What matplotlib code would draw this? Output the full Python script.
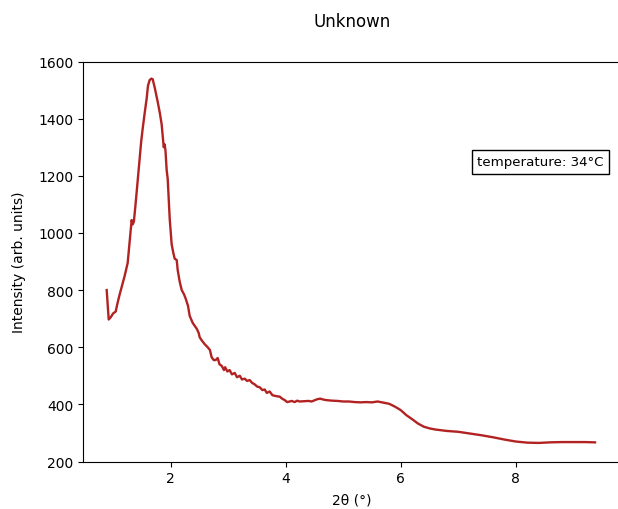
import matplotlib

matplotlib.use("Agg")
import matplotlib.pyplot as plt

two_theta = [
    0.887, 0.922, 0.958, 0.998, 1.044, 1.076, 1.113, 1.154, 1.200, 1.252,
    1.291, 1.321, 1.340, 1.360, 1.389, 1.429, 1.461, 1.487, 1.513, 1.548,
    1.582, 1.605, 1.634, 1.664, 1.687, 1.721, 1.752, 1.773, 1.811, 1.843,
    1.879, 1.894, 1.909, 1.930, 1.948, 1.983, 2.017, 2.046, 2.069, 2.105,
    2.122, 2.156, 2.192, 2.232, 2.261, 2.301, 2.330, 2.383, 2.418, 2.452,
    2.487, 2.504, 2.536, 2.556, 2.594, 2.643, 2.683, 2.712, 2.748, 2.781,
    2.818, 2.849, 2.887, 2.927, 2.947, 2.986, 3.025, 3.065, 3.114, 3.153,
    3.202, 3.241, 3.287, 3.329, 3.374, 3.417, 3.461, 3.505, 3.548, 3.594,
    3.635, 3.672, 3.721, 3.770, 3.809, 3.858, 3.897, 3.937, 3.983, 4.025,
    4.070, 4.103, 4.157, 4.201, 4.240, 4.4, 4.45, 4.5, 4.55, 4.6,
    4.65, 4.7, 4.8, 4.9, 5.0, 5.1, 5.2, 5.3, 5.4, 5.5,
    5.6, 5.7, 5.8, 5.9, 6.0, 6.1, 6.2, 6.3, 6.4, 6.5,
    6.6, 6.8, 7.0, 7.2, 7.4, 7.6, 7.8, 8.0, 8.2, 8.4,
    8.6, 8.8, 9.0, 9.2, 9.38,
]
intensity = [
    800, 697, 705, 718, 725, 755, 785, 815, 850, 895,
    980, 1045, 1030, 1040, 1100, 1190, 1260, 1320, 1365, 1420,
    1470, 1515, 1535, 1540, 1538, 1510, 1480, 1460, 1420, 1380,
    1300, 1310, 1290, 1220, 1190, 1050, 960, 930, 910, 905,
    870, 830, 800, 785, 770, 745, 710, 685, 675, 665,
    650, 635, 625, 620, 610, 600, 590, 565, 555, 555,
    562, 540, 535, 520, 530, 515, 520, 505, 510, 495,
    500, 487, 490, 482, 485, 475, 470, 462, 460, 450,
    452, 440, 445, 432, 430, 428, 427, 420, 415, 408,
    410, 412, 408, 413, 410, 412, 410, 414, 418, 420,
    417, 415, 413, 412, 410, 410, 408, 407, 408, 407,
    410, 406, 402, 392, 380, 362, 348, 333, 322, 316,
    312, 307, 304, 298, 292, 285, 277, 270, 266, 265,
    267, 268, 268, 268, 267,
]
x_ticks = [2, 4, 6, 8]
y_ticks = [200, 400, 600, 800, 1000, 1200, 1400, 1600]
annotation = "temperature: 34°C"

fig = plt.figure(figsize=(6.18, 5.10), dpi=100)
# right edge of the axes sits just past the figure edge, as in the reference
ax = fig.add_axes([83 / 618, 1 - 462.5 / 510, 537.6 / 618, 400 / 510])
ax.plot(two_theta, intensity, color="#b22222", linewidth=1.7)
ax.set_xlim(0.475, 9.825)
ax.set_ylim(200, 1600)
ax.set_xticks(x_ticks)
ax.set_yticks(y_ticks)
ax.tick_params(labelsize=10)
ax.set_xlabel("2θ (°)", fontsize=10, labelpad=5)
ax.set_ylabel("Intensity (arb. units)", fontsize=10, labelpad=9)
ax.text(
    0.851, 0.749, annotation,
    transform=ax.transAxes, ha="center", va="center", fontsize=9.6,
    bbox=dict(boxstyle="square,pad=0.4", facecolor="white", edgecolor="black"),
)
fig.text(352 / 618, 1 - 22 / 510, "Unknown", ha="center", va="center", fontsize=12)
fig.savefig("out.png", dpi=100)
